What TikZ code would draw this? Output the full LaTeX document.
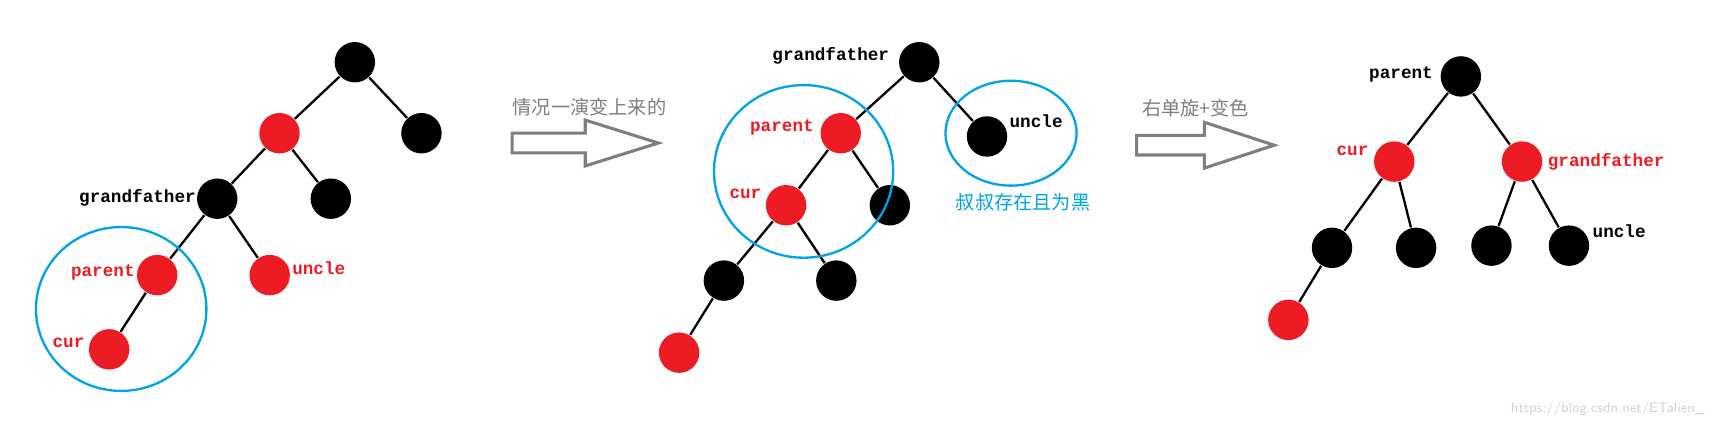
\documentclass[tikz,border=0pt]{standalone}
\usepackage{fontspec}
\usetikzlibrary{shapes.geometric}
\setmonofont{Liberation Mono}
\newfontfamily\cjk{Noto Sans CJK SC}
\definecolor{rbred}{RGB}{237,28,36}
\definecolor{cblue}{RGB}{0,162,232}
\definecolor{agray}{RGB}{127,127,127}
\begin{document}
\begin{tikzpicture}[x=0.01cm,y=-0.01cm,
  bn/.style={circle,fill=black,minimum size=0.37cm,inner sep=0},
  rn/.style={circle,fill=rbred,minimum size=0.37cm,inner sep=0},
  lbl/.style={font=\ttfamily\bfseries\fontsize{4.6}{5}\selectfont,inner sep=0},
  cn/.style={font=\cjk\fontsize{5}{6}\selectfont,inner sep=0},
  ed/.style={line width=0.6pt},
  ring/.style={draw=cblue,line width=0.6pt},
  harrow/.style={draw=agray,line width=0.8pt,fill=white}]
\useasboundingbox (0,0) rectangle (1568,392);
% tree 1
\node[bn] (a1) at (325,57) {};
\node[rn] (a2) at (256,122) {};
\node[bn] (a3) at (386,122) {};
\node[bn] (a4) at (199,182) {};
\node[bn] (a5) at (303,182) {};
\node[rn] (a6) at (144,252) {};
\node[rn] (a7) at (247,252) {};
\node[rn] (a8) at (100,320) {};
\draw[ed] (a1)--(a2) (a1)--(a3) (a2)--(a4) (a2)--(a5) (a4)--(a6) (a4)--(a7) (a6)--(a8);
\node[ring,ellipse,minimum width=1.56cm,minimum height=1.5cm] (c1) at (111,283) {};
\node[lbl,anchor=east] (l1) at (180,181) {grandfather};
\node[lbl,anchor=east,text=rbred] (l2) at (124,250) {parent};
\node[lbl,anchor=west,text=rbred] (l3) at (267,246) {uncle};
\node[lbl,anchor=east,text=rbred] (l4) at (78,314) {cur};
% arrow 1
\draw[harrow] (469,122)--(536,122)--(536,110)--(603,131)--(536,152)--(536,140)--(469,140)--cycle;
\node[cn,text=agray] (t1) at (540,98) {情况一演变上来的};
% tree 2
\node[bn] (b1) at (842,57) {};
\node[rn] (b2) at (770,122) {};
\node[bn] (b3) at (904,125) {};
\node[rn] (b4) at (720,188) {};
\node[bn] (b5) at (815,188) {};
\node[bn] (b6) at (663,257) {};
\node[bn] (b7) at (766,257) {};
\node[rn] (b8) at (622,323) {};
\draw[ed] (b1)--(b2) (b1)--(b3) (b2)--(b4) (b2)--(b5) (b4)--(b6) (b4)--(b7) (b6)--(b8);
\node[ring,ellipse,minimum width=1.64cm,minimum height=1.58cm] (c2) at (736,157) {};
\node[ring,ellipse,minimum width=1.2cm,minimum height=0.96cm] (c3) at (926,122) {};
\node[lbl,anchor=east] (m1) at (815,51) {grandfather};
\node[lbl,anchor=east,text=rbred] (m2) at (746,117) {parent};
\node[lbl,anchor=west] (m3) at (924,111) {uncle};
\node[lbl,anchor=east,text=rbred] (m4) at (698,178) {cur};
\node[cn,text=cblue] (t2) at (937,185) {叔叔存在且为黑};
% arrow 2
\draw[harrow] (1041,124)--(1103,124)--(1103,112)--(1167,133)--(1103,154)--(1103,142)--(1041,142)--cycle;
\node[cn,text=agray] (t3) at (1095,99) {右单旋+变色};
% tree 3
\node[bn] (d1) at (1338,70) {};
\node[rn] (d2) at (1277,148) {};
\node[rn] (d3) at (1394,148) {};
\node[bn] (d4) at (1220,227) {};
\node[bn] (d5) at (1297,227) {};
\node[bn] (d6) at (1366,225) {};
\node[bn] (d7) at (1437,225) {};
\node[rn] (d8) at (1180,293) {};
\draw[ed] (d1)--(d2) (d1)--(d3) (d2)--(d4) (d2)--(d5) (d3)--(d6) (d3)--(d7) (d4)--(d8);
\node[lbl,anchor=east] (n1) at (1313,68) {parent};
\node[lbl,anchor=east,text=rbred] (n2) at (1254,138) {cur};
\node[lbl,anchor=west,text=rbred] (n3) at (1417,148) {grandfather};
\node[lbl,anchor=west] (n4) at (1458,212) {uncle};
\node[font=\sffamily\fontsize{3.6}{4}\selectfont,text=black!18,anchor=east,inner sep=0] (w) at (1562,375) {https://blog.csdn.net/ETalien\_};
\end{tikzpicture}
\end{document}
